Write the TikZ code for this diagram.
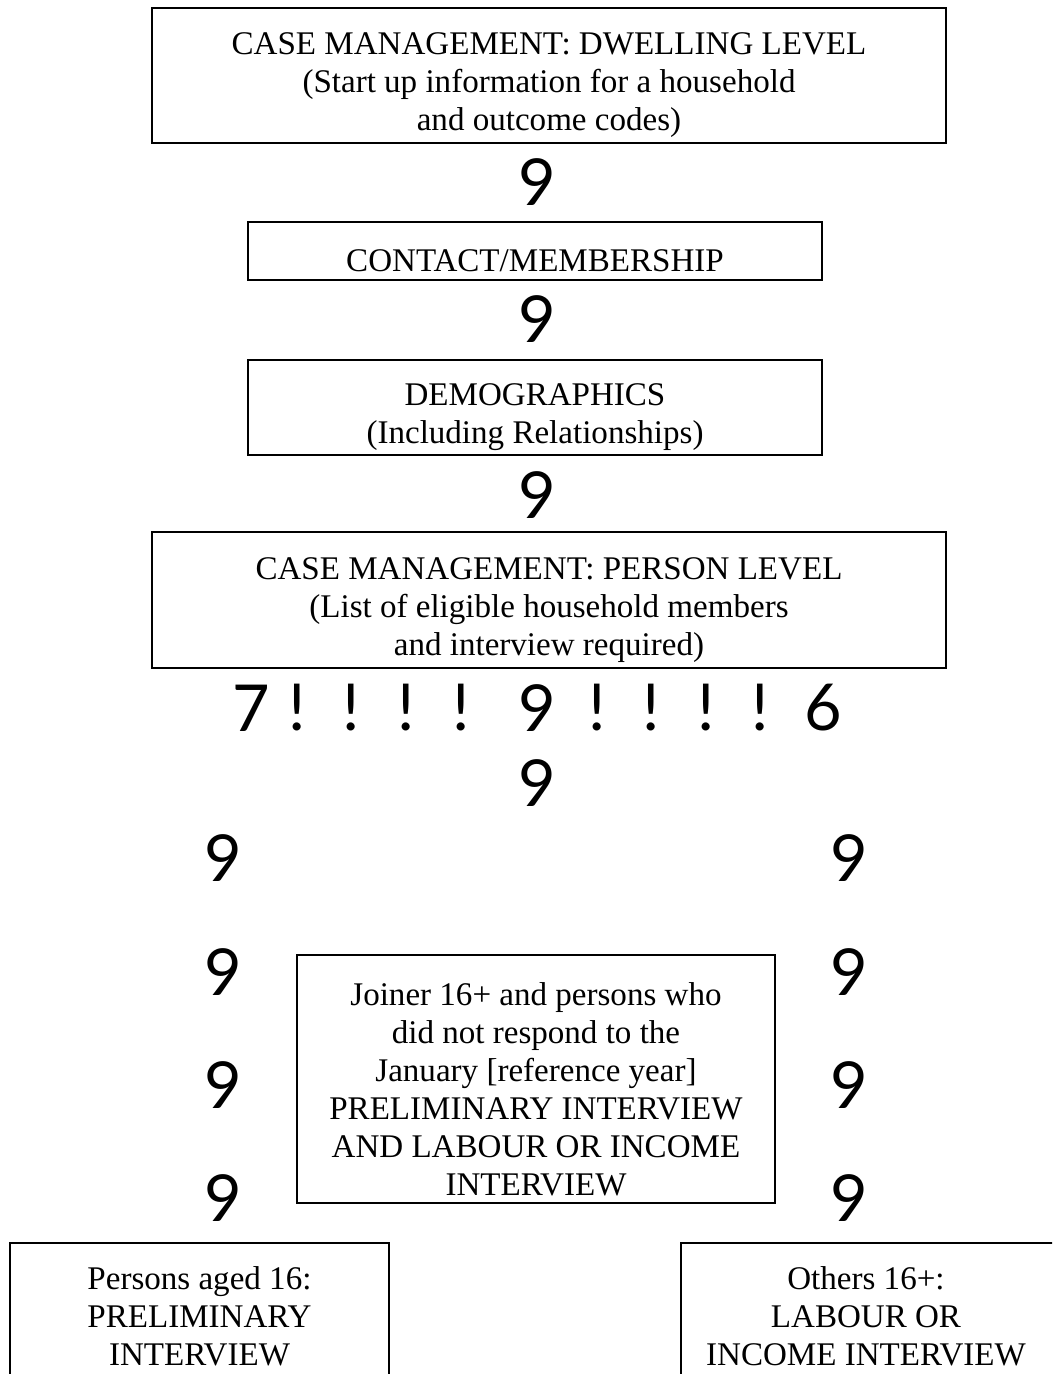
\documentclass[tikz,border=0pt]{standalone}
\usepackage{fontspec}
\setmainfont{Liberation Serif}
\newfontfamily\glyphfont{Lato}
\usetikzlibrary{positioning}

\tikzset{
  box/.style={draw,line width=1pt,inner sep=0pt},
  lbl/.style={align=center,inner sep=0pt,yshift=-3.6pt,font=\fontsize{12}{13.8}\selectfont},
  sym/.style={inner sep=0pt,font=\glyphfont\fontsize{23.5}{23.5}\selectfont}
}

\begin{document}
\begin{tikzpicture}[x=0.363pt,y=-0.363pt]
  \useasboundingbox (0,0) rectangle (1052,1374);
  \clip (0,0) rectangle (1052,1374);

  % stacked boxes
  \node[box,minimum width=288.2pt,minimum height=49pt] (dwell) at (549,75.5) {};
  \node[lbl] (dwellt) at (dwell) {CASE MANAGEMENT: DWELLING LEVEL\\(Start up information for a household\\and outcome codes)};
  \node[box,minimum width=208.4pt,minimum height=21.1pt] (contact) at (535,251) {};
  \node[lbl] (contactt) at (contact) {CONTACT/MEMBERSHIP};
  \node[box,minimum width=208.4pt,minimum height=34.5pt] (demog) at (535,407.5) {};
  \node[lbl] (demogt) at (demog) {DEMOGRAPHICS\\(Including Relationships)};
  \node[box,minimum width=288.2pt,minimum height=49.4pt] (person) at (549,600) {};
  \node[lbl] (persont) at (person) {CASE MANAGEMENT: PERSON LEVEL\\(List of eligible household members\\and interview required)};

  \node[sym] (a1) at (537,182) {9};
  \node[sym] (a2) at (537,319) {9};
  \node[sym] (a3) at (537,495) {9};

  % split row
  \foreach \x/\g [count=\i] in {251/7,297/!,351/!,406/!,461/!,537/9,597/!,651/!,706/!,760/!,823/6}
    \node[sym] (r\i) at (\x,708) {\g};
  \node[sym] (mid) at (537,783) {9};

  \foreach \y [count=\i] in {858,972,1085,1198} {
    \node[sym] (lft\i) at (223,\y) {9};
    \node[sym] (rgt\i) at (849,\y) {9};
  }

  % joiner box
  \node[box,minimum width=173.5pt,minimum height=90pt] (joiner) at (536,1079) {};
  \node[lbl] (joinert) at (joiner) {Joiner 16+ and persons who\\did not respond to the\\January [reference year]\\PRELIMINARY INTERVIEW\\AND LABOUR OR INCOME\\INTERVIEW};

  % bottom boxes, cut by the page edge
  \node[box,minimum width=137.6pt,minimum height=64.3pt] (young) at (199.5,1331.5) {};
  \node[lbl] (youngt) at (199.5,1306) {Persons aged 16:\\PRELIMINARY\\INTERVIEW};
  \node[box,minimum width=137.6pt,minimum height=64.3pt] (others) at (870.5,1331.5) {};
  \node[lbl] (otherst) at (866,1306) {Others 16+:\\LABOUR OR\\INCOME INTERVIEW};
\end{tikzpicture}
\end{document}
